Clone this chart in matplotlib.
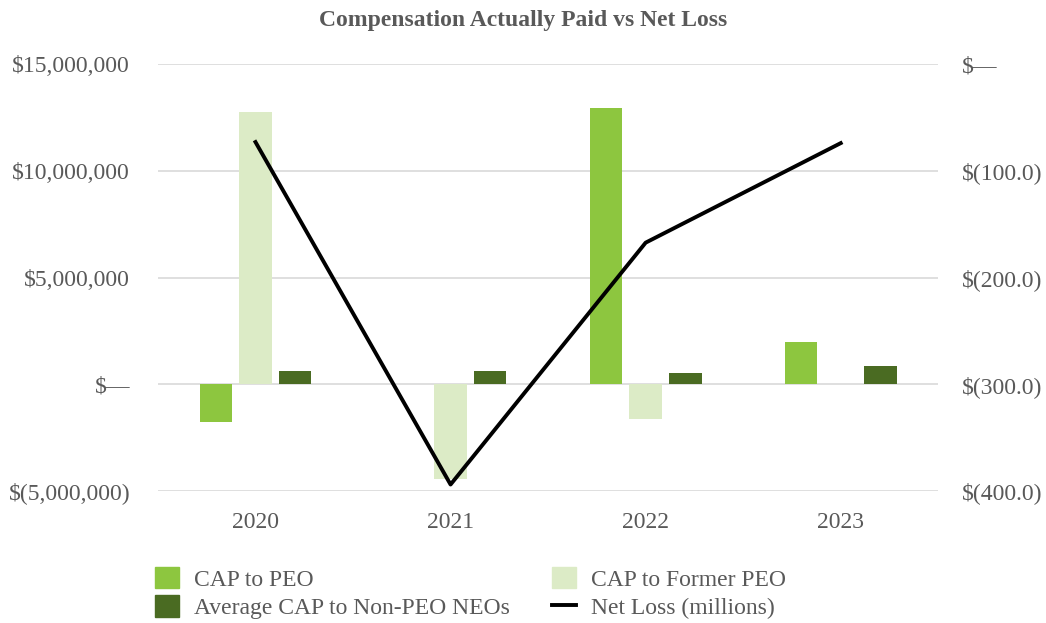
import matplotlib
matplotlib.use("Agg")
import matplotlib.pyplot as plt
import numpy as np
from matplotlib.lines import Line2D
from matplotlib.patches import Patch

years = ["2020", "2021", "2022", "2023"]
cap_peo = [-1.78e6, 0.0, 12.94e6, 1.97e6]
cap_former_peo = [12.77e6, -4.44e6, -1.63e6, 0.0]
cap_non_peo = [0.62e6, 0.61e6, 0.54e6, 0.87e6]
net_loss = [-73.0, -394.0, -167.3, -74.0]

left_ticks = [-5e6, 0, 5e6, 10e6, 15e6]
left_labels = ["$(5,000,000)", "$—", "$5,000,000", "$10,000,000", "$15,000,000"]
right_ticks = [-400, -300, -200, -100, 0]
right_labels = ["$(400.0)", "$(300.0)", "$(200.0)", "$(100.0)", "$—"]

c_peo = "#8dc63f"
c_former = "#dcebc6"
c_non = "#4a6b22"
txt = "#595959"
fs = 17

plt.rcParams["font.family"] = ["Liberation Serif", "DejaVu Serif"]

fig = plt.figure(figsize=(10.46, 6.23), dpi=100)
ax = fig.add_axes([0.151, 0.212, 0.746, 0.685])
x = np.arange(len(years))
w = 0.167
gap = 0.036
ax.bar(x - (w + gap), cap_peo, w, color=c_peo, zorder=2)
ax.bar(x, cap_former_peo, w, color=c_former, zorder=2)
ax.bar(x + (w + gap), cap_non_peo, w, color=c_non, zorder=2)
ax.set_ylim(-5e6, 15e6)
ax.set_xlim(-0.5, 3.5)
ax.set_yticks(left_ticks)
ax.set_yticklabels(left_labels)
ax.set_xticks(x)
ax.set_xticklabels(years)
ax.yaxis.grid(True, color="#d9d9d9", linewidth=1.2, zorder=0)
ax.set_axisbelow(True)
for s in ax.spines.values():
    s.set_visible(False)
ax.tick_params(length=0, labelsize=fs, colors=txt)
ax.tick_params(axis="y", pad=20)
ax.tick_params(axis="x", pad=15)

ax2 = ax.twinx()
ax2.plot(x, net_loss, color="black", linewidth=2.8, zorder=3)
ax2.set_ylim(-400, 0)
ax2.set_yticks(right_ticks)
ax2.set_yticklabels(right_labels)
for s in ax2.spines.values():
    s.set_visible(False)
ax2.tick_params(length=0, labelsize=fs, colors=txt, pad=17)

fig.text(0.5, 0.967, "Compensation Actually Paid vs Net Loss", ha="center", va="center",
         fontsize=fs, fontweight="bold", color=txt)

handles = [Patch(color=c_peo), Patch(color=c_non), Patch(color=c_former),
           Line2D([0], [0], color="black", linewidth=2.8)]
labels = ["CAP to PEO", "Average CAP to Non-PEO NEOs", "CAP to Former PEO", "Net Loss (millions)"]
leg = fig.legend(handles, labels, ncol=2, loc="upper left",
                 bbox_to_anchor=(155 / 1046, 1 - 567 / 623),
                 frameon=False, fontsize=fs, handlelength=1.0, handleheight=1.0,
                 columnspacing=1.8, labelspacing=0.2, handletextpad=0.65,
                 borderpad=0, borderaxespad=0)
for t in leg.get_texts():
    t.set_color(txt)

fig.savefig("out.png", dpi=100)
